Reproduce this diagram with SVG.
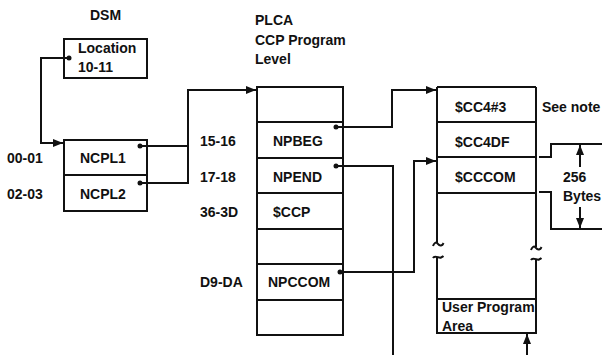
<svg xmlns="http://www.w3.org/2000/svg" width="602" height="355" viewBox="0 0 602 355">
<defs>
<style>
text{font-family:"Liberation Sans",Arial,sans-serif;font-weight:bold;font-size:14px;fill:#111}
.box{fill:#fff;stroke:#111;stroke-width:2}
.ln{fill:none;stroke:#111;stroke-width:2}
.dot{fill:#111}
</style>
<marker id="ah" viewBox="0 0 10 8" refX="10" refY="4" markerWidth="10" markerHeight="8" markerUnits="userSpaceOnUse" orient="auto">
<path d="M0,0L10,4L0,8z" fill="#111"/>
</marker>
</defs>
<rect width="602" height="355" fill="#fff"/>
<text x="90" y="20">DSM</text>
<text x="255" y="25">PLCA</text>
<text x="255" y="45">CCP Program</text>
<text x="255" y="64">Level</text>

<g id="location"><rect class="box" x="64" y="39" width="83" height="39"/><text x="78" y="53">Location</text><text x="78" y="72">10-11</text></g>
<g id="ncpl1"><rect class="box" x="64" y="140" width="83" height="35"/><text x="80" y="163">NCPL1</text><text x="7" y="163">00-01</text></g>
<g id="ncpl2"><rect class="box" x="64" y="175" width="83" height="36"/><text x="80" y="199">NCPL2</text><text x="7" y="199">02-03</text></g>

<g id="plca">
<rect class="box" x="257" y="87" width="86" height="248"/>
<path class="ln" d="M257,122H343M257,158H343M257,193H343M257,229H343M257,264H343M257,300H343"/>
<text x="273" y="146">NPBEG</text><text x="200" y="146">15-16</text>
<text x="273" y="182">NPEND</text><text x="200" y="182">17-18</text>
<text x="273" y="217">$CCP</text><text x="200" y="217">36-3D</text>
<text x="268" y="287">NPCCOM</text><text x="200" y="287">D9-DA</text>
</g>

<g id="ccpbox">
<path class="ln" d="M437,87H536M437,122H536M437,157H536M437,193H536M437,87V243M536,87V247M437,257V299M536,259V299"/>
<path class="ln" d="M433,246c1,-3 3,-4 4,-3s2,3 4,2.5 2,-1.5 2.5,-2.5M531,250c1,-3 3,-4 4,-3s2,3 4,2.5 2,-1.5 2.5,-2.5M433,258c1,-2 2,-1.5 4,-1s3,1 4,0.5 2,-1 2.5,-1.5M531,260c1,-2 2,-1.5 4,-1s3,1 4,0.5 2,-1 2.5,-1.5"/>
<text x="455" y="112">$CC4#3</text>
<text x="455" y="147">$CC4DF</text>
<text x="455" y="182">$CCCOM</text>
<text x="542" y="112">See note</text>
</g>

<g id="userarea"><rect class="box" x="437" y="299" width="99" height="34"/><text x="442" y="312">User Program</text><text x="442" y="331">Area</text></g>

<g id="bytes">
<path class="ln" d="M539,157H551V144H602M539,192H551V229H602"/>
<path class="ln" d="M580,167V145" marker-end="url(#ah)"/>
<path class="ln" d="M580,207V228" marker-end="url(#ah)"/>
<text x="563" y="182">256</text>
<text x="563" y="201">Bytes</text>
</g>

<g id="connectors">
<path class="ln" d="M69,58H41V143H63" marker-end="url(#ah)"/>
<path class="ln" d="M140,146H188M140,183H188V90H256" marker-end="url(#ah)"/>
<path class="ln" d="M336,127H392V90H436" marker-end="url(#ah)"/>
<path class="ln" d="M336,166H393V355"/>
<path class="ln" d="M340,272H414V161H436" marker-end="url(#ah)"/>
<path class="ln" d="M527,355V334" marker-end="url(#ah)"/>
<circle class="dot" cx="69" cy="58" r="2.5"/>
<circle class="dot" cx="140" cy="146" r="2.5"/>
<circle class="dot" cx="140" cy="183" r="2.5"/>
<circle class="dot" cx="336" cy="127" r="2.5"/>
<circle class="dot" cx="336" cy="166" r="2.5"/>
<circle class="dot" cx="340" cy="272" r="2.5"/>
</g>
</svg>
